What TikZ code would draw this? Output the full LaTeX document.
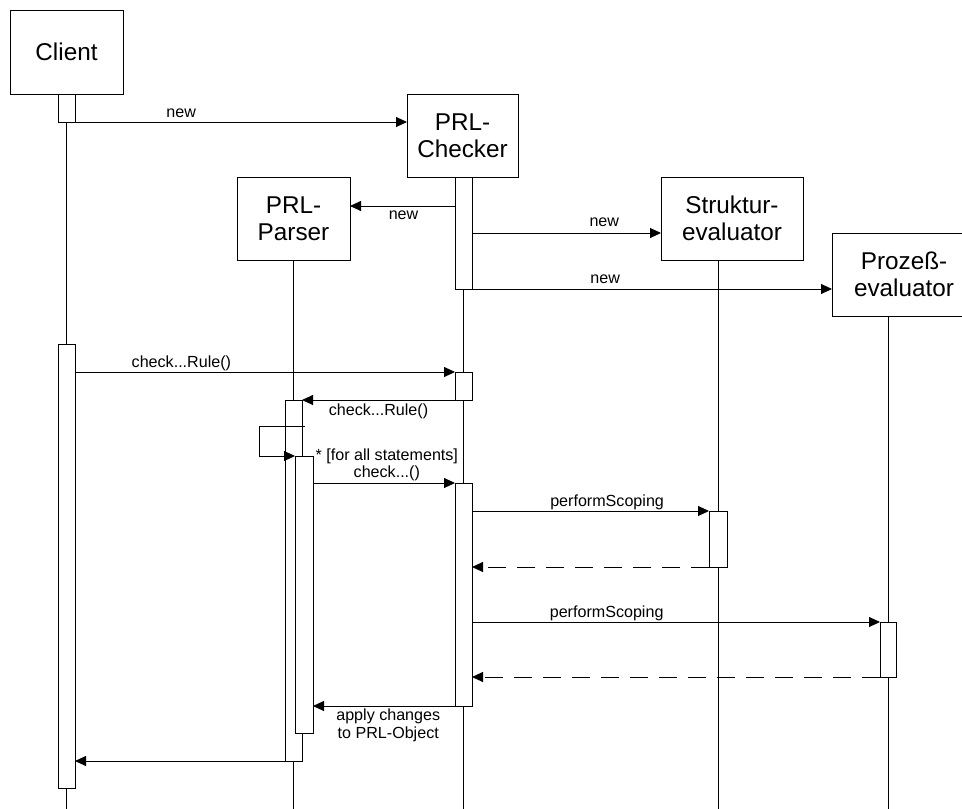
\documentclass[tikz,border=0pt]{standalone}
\usepackage{fontspec}
\setmainfont{Liberation Sans}
\usetikzlibrary{arrows.meta,calc}
\begin{document}
\begin{tikzpicture}[x=1pt,y=-1pt,
  obj/.style={draw, line width=1pt, inner sep=0pt, outer sep=0pt, align=center, font=\fontsize{24.3}{27}\selectfont},
  bar/.style={draw, fill=white, line width=1pt, inner sep=0pt, outer sep=0pt, minimum width=17pt, anchor=north},
  msg/.style={draw, line width=0.9pt, -{Triangle[length=11pt,width=10pt]}},
  ret/.style={msg, dash pattern=on 18pt off 11pt},
  life/.style={draw, line width=1pt},
  lbl/.style={font=\fontsize{16.1}{17.5}\selectfont, inner sep=0pt, align=center},
  up/.style={lbl, anchor=base, yshift=5pt},
  ]
\useasboundingbox (0,0) rectangle (962,809);
\coordinate (bot) at (0,809);

% objects
\node[obj, minimum width=113pt, minimum height=84pt] (client) at (66.5,52) {Client};
\node[obj, minimum width=111pt, minimum height=83pt] (checker) at (462.5,135.5) {PRL-\\Checker};
\node[obj, minimum width=113pt, minimum height=83pt] (parser) at (293.5,218.5) {PRL-\\Parser};
\node[obj, minimum width=142pt, minimum height=83pt] (struk) at (732,218.5) {Struktur-\\evaluator};
\node[obj, minimum width=144pt, minimum height=83pt] (proz) at (904,274.5) {Prozeß-\\evaluator};

% activation bar positions
\path (66.5,94) coordinate (cb1p) (463.5,177) coordinate (ch1p)
      (66.5,344) coordinate (cb2p) (463.5,372) coordinate (ch2p)
      (293.5,400) coordinate (pb1p) (304,456) coordinate (pb2p)
      (463.5,483) coordinate (ch3p) (718,511) coordinate (sbp)
      (888,622) coordinate (prbp);

% lifelines
\draw[life] (client.south) -- (client.south |- bot);
\draw[life] (ch1p) -- (ch1p |- bot);
\draw[life] (parser.south) -- (parser.south |- bot);
\draw[life] (sbp |- struk.south) -- (sbp |- bot);
\draw[life] (prbp |- proz.south) -- (prbp |- bot);

% bars
\node[bar, minimum height=28pt] (cb1) at (cb1p) {};
\node[bar, minimum height=112pt] (ch1) at (ch1p) {};
\node[bar, minimum height=444pt] (cb2) at (cb2p) {};
\node[bar, minimum height=28pt] (ch2) at (ch2p) {};
\node[bar, minimum height=361pt] (pb1) at (pb1p) {};
\node[bar, minimum height=277pt, minimum width=18pt] (pb2) at (pb2p) {};
\node[bar, minimum height=223pt] (ch3) at (ch3p) {};
\node[bar, minimum height=56pt, minimum width=18pt] (sb) at (sbp) {};
\node[bar, minimum height=55pt, minimum width=16pt] (prb) at (prbp) {};

% messages
\draw[msg] (cb1.south east) -- node[up, pos=0.32] (l1) {new} (cb1.south east -| checker.west);
\draw[msg] ($(ch1.north west)+(0,29)$) coordinate (m2) -- node[lbl, pos=0.49, anchor=base, yshift=-13pt] (l2) {new} (m2 -| parser.east);
\draw[msg] ($(ch1.north east)+(0,56)$) coordinate (m3) -- node[lbl, pos=0.70, anchor=base, yshift=7pt] (l3) {new} (m3 -| struk.west);
\draw[msg] (ch1.south east) -- node[lbl, pos=0.37, anchor=base, yshift=6pt] (l4) {new} (ch1.south east -| proz.west);
\draw[msg] (ch2.north west -| cb2.east) -- node[up, pos=0.28, yshift=-0.5pt] (l5) {check...Rule()} (ch2.north west);
\draw[msg] (ch2.south west) -- node[lbl, pos=0.5, anchor=base, yshift=-15.5pt] (l6) {check...Rule()} (pb1.north east);
\coordinate (loopstart) at ($(pb1.north east)+(3,26)$);
\draw[msg] (loopstart) -- ++(-46,0) |- (pb2.north west);
\draw[msg] (ch3.north west -| pb2.east) -- node[lbl, pos=0.52, anchor=south, yshift=1.7pt] (l7) {* [for all statements]\\check...()} (ch3.north west);
\draw[msg] (sb.north west -| ch3.east) -- node[up, pos=0.57] (l8) {performScoping} (sb.north west);
\draw[ret] (sb.south west) -- (sb.south west -| ch3.east);
\draw[msg] (prb.north west -| ch3.east) -- node[up, pos=0.33] (l9) {performScoping} (prb.north west);
\draw[ret] (prb.south west) -- (prb.south west -| ch3.east);
\draw[msg] (ch3.south west) -- node[lbl, pos=0.47, anchor=north, yshift=-2.7pt] (l10) {apply changes\\to PRL-Object} (ch3.south west -| pb2.east);
\draw[msg] (pb1.south west) -- (pb1.south west -| cb2.east);
\end{tikzpicture}
\end{document}
